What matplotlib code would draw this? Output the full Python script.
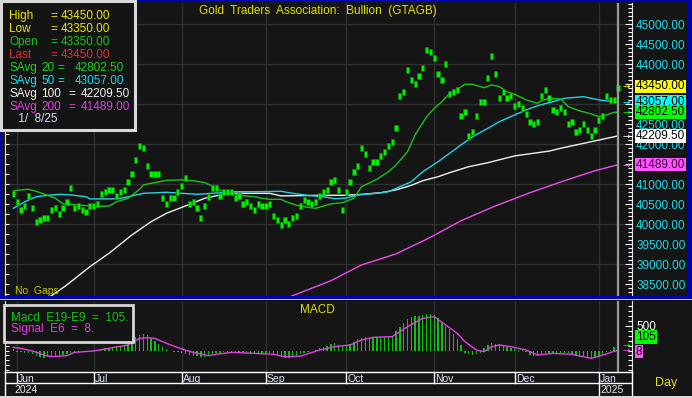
import numpy as np
import pandas as pd
import matplotlib
matplotlib.use("Agg")
import matplotlib.pyplot as plt
import matplotlib.transforms as mtransforms
from matplotlib.patches import Rectangle
from matplotlib.ticker import MultipleLocator, FixedLocator, StrMethodFormatter

plt.rcParams['font.family'] = ['Liberation Sans', 'DejaVu Sans']

# ---- data ----
dates = pd.bdate_range("2024-05-31", "2025-01-08")

price_mid = [
    40758, 40550, 40358, 40450, 40700, 40400, 40058, 40110, 40150, 40150,
    40350, 40400, 40258, 40400, 40558, 40900, 40400, 40450, 40350, 40300,
    40450, 40450, 40508, 40758, 40800, 40850, 40850, 40700, 40800, 40850,
    41050, 41250, 41600, 41950, 41900, 41450, 41250, 41250, 41250, 40650,
    40500, 40650, 40650, 40808, 40950, 41150, 40508, 40550, 40400, 40150,
    40450, 40690, 40900, 40900, 40700, 40808, 40808, 40808, 40650, 40700,
    40500, 40550, 40450, 40350, 40500, 40450, 40450, 40500, 40200, 40100,
    39975, 40100, 40000, 40150, 40200, 40450, 40600, 40550, 40500, 40550,
    40700, 40800, 40850, 41050, 41100, 40850, 40350, 40800, 41050, 41300,
    41450, 41900, 41750, 41400, 41550, 41550, 41700, 41800, 41950, 42050,
    42400, 43200, 43300, 43850, 43600, 43500, 43700, 43900, 44350, 44300,
    44150, 43750, 43600, 44000, 43250, 43300, 43350, 42700, 42800, 42200,
    42300, 42700, 43050, 43050, 43650, 44200, 43750, 43150, 43300, 43150,
    43200, 42950, 43000, 42900, 42750, 42550, 42500, 42550, 43200, 43350,
    43150, 42850, 42800, 42900, 42800, 42500, 42550, 42300, 42350, 42500,
    42350, 42200, 42350, 42600, 42700, 43200, 43100, 43100, 43400,
]

sma20_idx = [0, 1, 4, 6, 7, 9, 11, 13, 16, 20, 23, 25, 27, 30, 33, 34, 36, 38, 40, 44,
             47, 50, 52, 54, 57, 59, 63, 65, 67, 70, 71, 74, 77, 79, 83, 86, 89, 91, 95, 98,
             100, 103, 105, 108, 110, 112, 114, 116, 118, 120, 123, 125, 127, 129, 131, 134,
             137, 138, 140, 143, 145, 148, 151, 153, 155, 157, 158]
sma20_val = [40830, 40850, 40875, 40825, 40790, 40725, 40650, 40510, 40490, 40460,
             40450, 40455, 40565, 40650, 40875, 40985, 41025, 41060, 41100, 41110,
             41090, 41040, 40960, 40850, 40790, 40725, 40690, 40650, 40625, 40625,
             40575, 40475, 40425, 40400, 40510, 40540, 40650, 40940, 41125, 41315,
             41480, 41815, 42235, 42690, 42900, 43065, 43275, 43375, 43500, 43500,
             43415, 43485, 43440, 43315, 43250, 43110, 43025, 43090, 43150, 43135,
             42940, 42835, 42760, 42690, 42735, 42800, 42802.5]

sma50_idx = [0, 3, 6, 9, 12, 15, 19, 20, 26, 28, 31, 34, 40, 44, 48, 52, 58, 64, 70, 73,
             75, 77, 81, 84, 87, 90, 95, 98, 101, 104, 107, 111, 114, 117, 120, 124, 127,
             131, 134, 137, 141, 144, 149, 151, 153, 155, 158]
sma50_val = [40400, 40565, 40690, 40725, 40750, 40735, 40690, 40635, 40635, 40650,
             40710, 40775, 40800, 40775, 40750, 40775, 40815, 40815, 40825, 40775,
             40750, 40720, 40690, 40640, 40655, 40735, 40775, 40815, 40940, 41065,
             41315, 41565, 41775, 41985, 42190, 42400, 42565, 42735, 42860, 42965,
             43065, 43150, 43190, 43150, 43110, 43085, 43057]

sma100_idx = [9, 14, 20, 25, 31, 36, 40, 45, 50, 56, 67, 70, 80, 86, 90, 96, 100, 104,
              107, 111, 114, 119, 124, 131, 140, 143, 151, 158]
sma100_val = [38150, 38485, 38940, 39275, 39735, 40065, 40275, 40460, 40650, 40775,
              40775, 40710, 40725, 40725, 40740, 40790, 40860, 40975, 41090, 41190,
              41290, 41440, 41540, 41710, 41830, 41900, 42065, 42209.5]

sma200_idx = [72, 83, 91, 100, 109, 117, 126, 135, 144, 152, 158]
sma200_val = [38180, 38590, 38985, 39260, 39675, 40090, 40460, 40790, 41090, 41340, 41489]

macd_vals = [
    30, -20, -35, -40, -45, -80, -110, -135, -145, -140,
    -135, -120, -110, -95, -75, -50, -40, -35, -30, -25,
    -20, -10, 20, 40, 50, 55, 70, 90, 100, 110,
    130, 200, 280, 320, 330, 310, 260, 200, 140, 80,
    30, 0, -20, -30, -50, -70, -90, -110, -120, -125,
    -130, -100, -70, -50, -40, -35, -30, -40, -45, -50,
    -50, -40, -40, -50, -55, -45, -40, -50, -80, -120,
    -140, -150, -150, -140, -110, -80, -60, -30, -10, 20,
    50, 80, 100, 130, 150,
    110, 100, 110, 130, 180, 230, 260, 270, 260, 270,
    270, 260, 270, 280, 300, 400, 470, 550, 640, 670,
    690, 700, 720, 740, 745, 720, 650, 580, 500, 440,
    340, 230, 120, -50, -80, -100, -70, -40, 60, 120,
    145, 140, 130, 100, 80, 60, 40, 20, 10, -30,
    -90, -120, -110, -80, -50, -40, -50, -50, -60, -55,
    -60, -70, -110, -130, -140, -150, -160, -155, -130, -80,
    -30, 20, 70, 105,
]

signal_idx = [0, 2, 5, 8, 10, 14, 16, 21, 25, 30, 33, 35, 37, 40, 44, 47, 51, 53, 57, 63,
              68, 71, 75, 80, 84, 88, 91, 94, 99, 103, 107, 110, 113, 116, 118, 121, 123,
              125, 127, 130, 134, 137, 141, 146, 151, 154, 158]
signal_val = [64, 44, -10, -91, -125, -104, -37, -10, 44, 111, 245, 259, 245, 145, 30, -37,
              -104, -77, -37, -57, -77, -125, -115, 10, 77, 111, 212, 266, 279, 480, 649,
              682, 514, 346, 178, 10, -24, 77, 111, 77, 10, -91, -57, -77, -158, -91, 8]

bar_names = ['High', 'Low', 'Open', 'Last']
bar_vals = [43450, 43350, 43350, 43450]
macd_last, signal_last = 105, 8

# ---- layout helpers ----
W, H = 692, 398
BG = '#151515'
GRID = '#303030'
XL = (-2.17, 161.66)

fig = plt.figure(figsize=(W / 100, H / 100), dpi=100)
fig.patch.set_facecolor(BG)


def axes_px(x0, y0, x1, y1):
    return fig.add_axes([x0 / W, 1 - y1 / H, (x1 - x0) / W, (y1 - y0) / H])


def ftext(x, y, s, **kw):
    kw.setdefault('va', 'center')
    kw.setdefault('fontsize', 8.5)
    return fig.text(x / W, 1 - y / H, s, **kw)


def frect(x0, y0, x1, y1, **kw):
    r = Rectangle((x0 / W, 1 - y1 / H), (x1 - x0) / W, (y1 - y0) / H,
                  transform=fig.transFigure, **kw)
    fig.add_artist(r)
    return r


x = np.arange(len(dates))
month_pos = [i for i in range(1, len(dates)) if dates[i].month != dates[i - 1].month]

# ---- price panel ----
ax = axes_px(5, 3, 632, 296)
ax.set_facecolor(BG)
ax.set_xlim(*XL)
ax.set_ylim(38208, 45532)
for m in month_pos:
    ax.axvline(m, color=GRID, lw=1, zorder=0)
for v in np.arange(39000, 45001, 1000):
    ax.axhline(v, color=GRID, lw=1, zorder=0)

mid = np.array(price_mid)
ax.bar(x, 150, bottom=mid - 75, width=0.85, color='#00f000', edgecolor='#008a00',
       linewidth=0.4, zorder=3)
ax.plot(sma200_idx, sma200_val, color='#e850e8', lw=1, zorder=2)
ax.plot(sma100_idx, sma100_val, color='#f0f0f0', lw=1, zorder=2)
ax.plot(sma50_idx, sma50_val, color='#20d4e4', lw=1, zorder=2)
ax.plot(sma20_idx, sma20_val, color='#20c020', lw=1, zorder=2)
ax.axvline(x[-1], color='#9a9a9a', lw=1.6, zorder=4)

ax.set_xticks([])
for s in ['top', 'bottom']:
    ax.spines[s].set_visible(False)
for s in ['left', 'right']:
    ax.spines[s].set_color('#e0e0e0')
    ax.spines[s].set_linewidth(0.8)
ax.yaxis.set_major_locator(MultipleLocator(250))
ax.tick_params(axis='y', direction='in', length=3, width=0.8, color='white',
               left=True, right=False, labelleft=False)

axr = ax.twinx()
axr.set_ylim(ax.get_ylim())
for s in axr.spines.values():
    s.set_visible(False)
axr.yaxis.set_major_locator(FixedLocator(np.arange(38500, 45001, 500)))
axr.yaxis.set_minor_locator(MultipleLocator(100))
axr.yaxis.set_major_formatter(StrMethodFormatter('{x:.2f}'))
axr.tick_params(axis='y', which='major', direction='in', length=5, width=0.8,
                color='white', labelcolor='#20d8e8', labelsize=8.5, pad=3)
axr.tick_params(axis='y', which='minor', direction='in', length=3, width=0.8, color='white')

tr = mtransforms.blended_transform_factory(fig.transFigure, axr.transData)
price_boxes = [(bar_vals[3], '#ffff00', 'black', '#ffff00'),
               (sma50_val[-1], '#00ffff', 'black', '#00ffff'),
               (sma20_val[-1], '#00ff00', 'black', '#00ff00'),
               (sma100_val[-1], '#ffffff', 'black', '#ffffff'),
               (sma200_val[-1], '#ff55ff', '#400040', '#ff55ff')]
for v, fc, tc, ac in price_boxes:
    axr.text(636 / W, v, f'{v:.2f}', transform=tr, ha='left', va='center', fontsize=8.5,
             color=tc, clip_on=False, zorder=6,
             bbox=dict(boxstyle='square,pad=0.06', fc=fc, ec='none'))
    axr.text(626 / W, v, '→', transform=tr, ha='center', va='center', fontsize=6.5,
             color=ac, clip_on=False, zorder=6, family='DejaVu Sans')

# ---- MACD panel ----
axm = axes_px(5, 301, 632, 372)
axm.set_facecolor(BG)
axm.set_xlim(*XL)
axm.set_ylim(-433, 998)
for m in month_pos:
    axm.axvline(m, color=GRID, lw=1, zorder=0)
axm.bar(x, macd_vals, width=0.35, color='#10c010', zorder=2)
axm.plot(signal_idx, signal_val, color='#e040e0', lw=1, zorder=3)
axm.axvline(x[-1], color='#9a9a9a', lw=1.6, zorder=4)
axm.set_xticks([])
for s in ['top', 'bottom']:
    axm.spines[s].set_visible(False)
for s in ['left', 'right']:
    axm.spines[s].set_color('#e0e0e0')
    axm.spines[s].set_linewidth(0.8)
axm.yaxis.set_major_locator(MultipleLocator(100))
axm.tick_params(axis='y', direction='in', length=3, width=0.8, color='white',
                left=True, right=False, labelleft=False)

axmr = axm.twinx()
axmr.set_ylim(axm.get_ylim())
for s in axmr.spines.values():
    s.set_visible(False)
axmr.yaxis.set_major_locator(FixedLocator([500]))
axmr.yaxis.set_minor_locator(MultipleLocator(100))
axmr.tick_params(axis='y', which='major', direction='in', length=5, width=0.8,
                 color='white', labelcolor='white', labelsize=8.5, pad=3)
axmr.tick_params(axis='y', which='minor', direction='in', length=3, width=0.8, color='white')

trm = mtransforms.blended_transform_factory(fig.transFigure, axmr.transData)
for v, fc, ac, dy in [(macd_last, '#00ff00', '#00ff00', 6), (signal_last, '#ff55ff', '#ff55ff', -1)]:
    axmr.annotate(f'{v}', xy=(636 / W, v), xycoords=trm, xytext=(0, dy),
                  textcoords='offset points', ha='left', va='center', fontsize=8.5,
                  color='black', annotation_clip=False, zorder=6,
                  bbox=dict(boxstyle='square,pad=0.06', fc=fc, ec='none'))
    axmr.text(626 / W, v, '→', transform=trm, ha='center', va='center', fontsize=6.5,
              color=ac, clip_on=False, zorder=6, family='DejaVu Sans')

# ---- date strip ----
axd = axes_px(5, 372, 632, 396)
axd.set_facecolor(BG)
axd.set_xlim(*XL)
axd.set_ylim(0, 24 / 13)
axd.set_xticks([])
axd.set_yticks([])
axd.spines['bottom'].set_visible(False)
for s in ['top', 'left', 'right']:
    axd.spines[s].set_color('white')
    axd.spines[s].set_linewidth(1)
axd.axhline(1, color='white', lw=1)
for m in month_pos:
    axd.plot([m, m], [1, 24 / 13], color='white', lw=1)
    axd.text(m + 0.3, 1.3, dates[m].strftime('%b'), ha='left', va='center',
             fontsize=7.5, color='#dde6ff')
axd.text(0.4, 0.47, str(dates[0].year), ha='left', va='center', fontsize=7.5, color='#e8e8e8')
axd.plot([month_pos[-1]] * 2, [0, 1], color='white', lw=1)
axd.text(month_pos[-1] + 0.3, 0.47, str(dates[month_pos[-1]].year), ha='left', va='center',
         fontsize=7.5, color='#e8e8e8')

# ---- frame ----
BLUE = '#0000b4'
frect(0, 0, W, 2, fc=BLUE, ec='none', zorder=5)
frect(0, 0, 2, 298, fc=BLUE, ec='none', zorder=5)
frect(688, 0, W, 298, fc=BLUE, ec='none', zorder=5)
frect(0, 296, W, 298.5, fc=BLUE, ec='none', zorder=5)
frect(0, 298.5, W, 300, fc='#c8c8c8', ec='none', zorder=5)
frect(0, 396, W, H, fc='#d8d8d8', ec='none', zorder=5)

# ---- texts ----
ftext(318, 11, 'Gold  Traders  Association:  Bullion  (GTAGB)', ha='center', color='#e0e000')
ftext(15, 291, 'No  Gaps', color='#c8c800', fontsize=7.5)

frect(1.5, 1.5, 135, 130, fc='#141414', ec='#d8d8d8', lw=2.2, zorder=6)
row_y = [15.7, 29, 42, 54.7]
row_c = ['#e8e800', '#e8e800', '#20c020', '#e03030']
for name, val, yy, c in zip(bar_names, bar_vals, row_y, row_c):
    ftext(9, yy, name, color=c, zorder=7)
    ftext(50, yy, '=', color=c, zorder=7)
    ftext(61, yy, f'{val:.2f}', color=c, zorder=7)
avg_rows = [(20, sma20_val[-1], '#20d020', 68.3, 57, 75),
            (50, sma50_val[-1], '#20d8e8', 81, 57, 75),
            (100, sma100_val[-1], '#f0f0f0', 94, 68, 81),
            (200, sma200_val[-1], '#e040e0', 106.7, 68, 81)]
for n, val, c, yy, xe, xv in avg_rows:
    ftext(9, yy, 'SAvg', color=c, zorder=7)
    ftext(41, yy, str(n), color=c, zorder=7)
    ftext(xe, yy, '=', color=c, zorder=7)
    ftext(xv, yy, f'{val:.2f}', color=c, zorder=7)
ftext(15, 119.3, ' 1/  8/25', color='#dcdcff', zorder=7)

frect(4, 304.5, 133, 341.5, fc='#141414', ec='#d8d8d8', lw=2.0, zorder=6)
ftext(10.7, 317.7, f'Macd  E19-E9  =  {macd_last}.', color='#10c810', zorder=7)
ftext(10.7, 329.3, f'Signal  E6  =  {signal_last}.', color='#e040e0', zorder=7)
ftext(317.5, 310, 'MACD', ha='center', color='#e0e000')
ftext(666, 383, 'Day', ha='center', color='#e0e000', fontsize=9)

fig.savefig('out.png', dpi=100, facecolor=fig.get_facecolor())
